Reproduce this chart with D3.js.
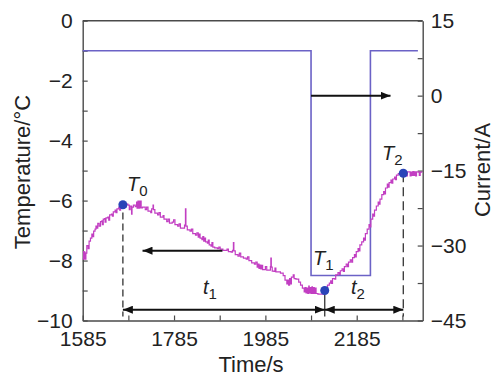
<!DOCTYPE html>
<html>
<head>
<meta charset="utf-8">
<script src="https://cdn.jsdelivr.net/npm/d3@7"></script>
<style>
  body { margin: 0; background: #fff; }
  svg text { font-family: "Liberation Sans", Arial, sans-serif; fill: #222; }
</style>
</head>
<body>
<div id="chart"></div>
<script>
// time axis ticks (s)
var timeTicks = [1585, 1685, 1785, 1885, 1985, 2085, 2185, 2285];
var tempTicks = [-10, -9, -8, -7, -6, -5, -4, -3, -2, -1, 0];
var currentTicks = [-45, -37.5, -30, -22.5, -15, -7.5, 0, 7.5, 15];

// current step signal (time, A)
var currentTime = [1585, 2085, 2085, 2215, 2215, 2319];
var currentValue = [9, 9, -36, -36, 9, 9];

// measured temperature (time, degC)
var tempSeries = [
  [1585,-7.95],[1587,-7.70],[1588,-7.95],[1589,-7.72],[1590,-7.95],[1592,-7.75],[1594,-7.50],[1597,-7.60],
  [1599,-7.35],[1602,-7.25],[1605,-7.12],[1607,-7.20],[1609,-7.02],[1612,-6.95],[1614,-6.85],[1616,-6.92],
  [1618,-6.76],[1621,-6.85],[1624,-6.70],[1627,-6.68],[1628,-6.80],[1630,-6.62],[1633,-6.60],[1634,-6.72],
  [1636,-6.58],[1640,-6.55],[1642,-6.65],[1644,-6.48],[1648,-6.45],[1650,-6.52],[1652,-6.38],[1656,-6.32],
  [1658,-6.40],[1660,-6.28],[1664,-6.22],[1666,-6.32],[1668,-6.18],[1672,-6.14],[1675,-6.10],
  [1678,-6.22],[1680,-6.12],[1684,-6.15],[1687,-6.30],[1689,-6.18],[1692,-6.45],[1693,-6.22],
  [1696,-6.15],[1700,-6.20],[1703,-6.05],[1704,-6.25],[1706,-6.02],[1707,-6.25],[1709,-6.02],
  [1710,-6.24],[1712,-6.02],[1713,-6.24],[1716,-6.22],[1722,-6.30],[1725,-6.22],
  [1728,-6.35],[1734,-6.40],[1736,-6.28],[1739,-6.15],[1740,-6.30],[1743,-6.42],
  [1749,-6.48],[1752,-6.40],[1755,-6.55],[1761,-6.50],[1763,-6.62],[1769,-6.70],
  [1772,-6.62],[1775,-6.75],[1781,-6.72],[1784,-6.64],[1787,-6.80],[1793,-6.85],
  [1796,-6.78],[1799,-6.92],[1805,-6.92],[1808,-6.82],[1810,-6.28],[1811,-6.85],[1814,-6.98],
  [1820,-7.02],[1823,-6.95],[1826,-7.10],[1832,-7.15],[1835,-7.08],[1838,-7.22],
  [1840,-7.12],[1842,-7.25],[1846,-7.30],[1848,-7.20],[1850,-7.35],[1852,-7.25],[1854,-7.38],
  [1858,-7.42],[1860,-7.32],[1862,-7.48],[1866,-7.52],[1868,-7.40],[1870,-7.55],
  [1874,-7.58],[1880,-7.60],[1883,-7.55],[1886,-7.62],[1892,-7.66],
  [1898,-7.66],[1901,-7.62],[1904,-7.70],[1910,-7.72],[1913,-7.66],[1915,-7.40],
  [1916,-7.68],[1919,-7.80],[1925,-7.85],[1928,-7.75],[1931,-7.88],[1937,-7.92],
  [1943,-7.95],[1946,-7.88],[1949,-8.00],[1955,-8.08],[1961,-8.12],
  [1964,-8.05],[1967,-8.22],[1969,-8.12],[1971,-8.26],[1973,-8.15],[1975,-8.28],[1977,-8.16],[1979,-8.30],
  [1983,-8.30],[1985,-8.20],[1988,-8.32],[1994,-8.32],[1996,-8.20],[1997,-7.92],
  [1998,-8.22],[2000,-8.35],[2004,-8.36],[2006,-8.25],[2008,-8.38],[2012,-8.38],
  [2018,-8.42],[2024,-8.50],[2028,-8.65],[2032,-8.78],
  [2034,-8.65],[2036,-8.82],[2038,-8.60],[2040,-8.78],[2042,-8.55],[2046,-8.48],[2048,-8.60],
  [2052,-8.62],[2058,-8.72],[2062,-8.82],[2066,-8.92],
  [2070,-9.05],[2072,-8.90],[2074,-9.08],[2076,-8.92],[2078,-9.10],[2080,-8.85],[2081,-9.08],
  [2083,-8.90],[2085,-9.10],[2087,-8.88],[2088,-9.10],[2090,-8.90],[2092,-9.10],[2094,-8.92],[2096,-9.10],
  [2100,-9.12],[2106,-9.12],[2112,-9.10],[2115,-9.00],[2118,-8.92],
  [2121,-8.82],[2125,-8.75],[2128,-8.68],[2130,-8.76],[2132,-8.60],[2137,-8.62],
  [2139,-8.48],[2144,-8.40],[2147,-8.46],[2149,-8.34],[2153,-8.28],[2156,-8.36],
  [2158,-8.20],[2162,-8.12],[2165,-8.20],[2167,-8.05],[2171,-7.98],[2174,-8.05],
  [2176,-7.90],[2180,-7.80],[2182,-7.88],[2184,-7.70],[2188,-7.60],[2190,-7.68],
  [2192,-7.48],[2196,-7.38],[2200,-7.25],[2202,-7.32],[2204,-7.10],
  [2208,-6.95],[2212,-6.80],[2214,-6.88],[2216,-6.62],[2220,-6.45],[2222,-6.52],
  [2224,-6.32],[2228,-6.18],[2232,-6.05],[2234,-6.12],[2236,-5.95],
  [2240,-5.80],[2244,-5.70],[2246,-5.78],[2248,-5.58],[2252,-5.45],[2254,-5.55],
  [2256,-5.40],[2260,-5.32],[2262,-5.42],[2264,-5.28],[2268,-5.22],[2270,-5.30],
  [2272,-5.15],[2276,-5.10],[2280,-5.08],[2283,-5.05],[2286,-5.16],[2288,-5.04],
  [2290,-5.18],[2292,-5.04],[2294,-5.18],[2296,-5.04],[2300,-5.04],[2302,-5.18],[2304,-5.05],
  [2306,-5.16],[2308,-5.03],[2310,-5.16],[2312,-5.04],[2314,-5.18],[2316,-5.04],[2320,-5.05],
  [2322,-5.16],[2324,-5.05],[2329,-5.05]
];

// key points T0, T1, T2
var keyNames = ["0", "1", "2"];
var keyTime = [1673, 2115, 2287];
var keyTemp = [-6.14, -9.0, -5.09];

var width = 494,
    height = 376;
var mLeft = 82.7, mRight = 422.7, mTop = 20.7, mBottom = 320.5;

var svg = d3.select("#chart")
    .append("svg")
    .attr("width", width)
    .attr("height", height);

var x = d3.scaleLinear().domain([1585, 2329.5]).range([mLeft, mRight]);
var yT = d3.scaleLinear().domain([-10, 0]).range([mBottom, mTop]);
var yC = d3.scaleLinear().domain([-45, 15]).range([mBottom, mTop]);

var defs = svg.append("defs");
defs.append("marker")
    .attr("id", "head")
    .attr("viewBox", "0 0 10 8")
    .attr("refX", 10)
    .attr("refY", 4)
    .attr("markerWidth", 10)
    .attr("markerHeight", 8)
    .attr("markerUnits", "userSpaceOnUse")
    .attr("orient", "auto-start-reverse")
    .append("path")
    .attr("d", "M0,0L10,4L0,8Z")
    .attr("fill", "#111");

// axes
var fmt = d3.format("");
svg.append("g")
    .attr("transform", "translate(0," + mBottom + ")")
    .call(d3.axisBottom(x).tickValues(timeTicks).tickSizeInner(-5).tickSizeOuter(0).tickPadding(11)
        .tickFormat(function(d) { return (d - 1585) % 200 === 0 ? d : ""; }))
    .call(styleAxis);

svg.append("g")
    .attr("transform", "translate(" + mLeft + ",0)")
    .call(d3.axisLeft(yT).tickValues(tempTicks).tickSizeInner(-5).tickSizeOuter(0).tickPadding(10)
        .tickFormat(function(d) { return d % 2 === 0 ? fmt(d) : ""; }))
    .call(styleAxis);

svg.append("g")
    .attr("transform", "translate(" + mRight + ",0)")
    .call(d3.axisRight(yC).tickValues(currentTicks).tickSizeInner(-5).tickSizeOuter(0).tickPadding(8)
        .tickFormat(function(d) { return d % 15 === 0 ? fmt(d) : ""; }))
    .call(styleAxis);

function styleAxis(g) {
  g.select(".domain").attr("stroke", "#4a4a4a").attr("stroke-width", 1.4);
  g.selectAll(".tick line").attr("stroke", "#4a4a4a").attr("stroke-width", 1.2);
  g.selectAll(".tick text").style("font-size", "21px").attr("fill", "#1a1a1a");
}

// top frame
svg.append("line")
    .attr("x1", mLeft).attr("x2", mRight)
    .attr("y1", mTop).attr("y2", mTop)
    .attr("stroke", "#4a4a4a").attr("stroke-width", 1.4);

// axis titles
svg.append("text")
    .attr("transform", "translate(30,172) rotate(-90)")
    .attr("text-anchor", "middle")
    .style("font-size", "22px")
    .text("Temperature/°C");

svg.append("text")
    .attr("transform", "translate(490,170) rotate(-90)")
    .attr("text-anchor", "middle")
    .style("font-size", "22px")
    .text("Current/A");

svg.append("text")
    .attr("x", 251)
    .attr("y", 372)
    .attr("text-anchor", "middle")
    .style("font-size", "22px")
    .text("Time/s");

// current line
var currentLine = d3.line()
    .x(function(d, i) { return x(currentTime[i]); })
    .y(function(d) { return yC(d); });

svg.append("path")
    .datum(currentValue)
    .attr("fill", "none")
    .attr("stroke", "#6b62c6")
    .attr("stroke-width", 1.6)
    .attr("d", currentLine);

// temperature line
var tempLine = d3.line()
    .curve(d3.curveStepAfter)
    .x(function(d) { return x(d[0]); })
    .y(function(d) { return yT(d[1]); });

svg.append("path")
    .datum(tempSeries)
    .attr("fill", "none")
    .attr("stroke", "#c23ec2")
    .attr("stroke-width", 1.2)
    .attr("d", tempLine);

// guide lines
var arrowY = yT(-9.64);
svg.append("line")
    .attr("x1", x(keyTime[0])).attr("x2", x(keyTime[0]))
    .attr("y1", yT(-6.4)).attr("y2", mBottom - 4)
    .attr("stroke", "#333").attr("stroke-width", 1.3)
    .attr("stroke-dasharray", "7,4");
svg.append("line")
    .attr("x1", x(keyTime[1])).attr("x2", x(keyTime[1]))
    .attr("y1", yT(keyTemp[1])).attr("y2", mBottom - 4)
    .attr("stroke", "#333").attr("stroke-width", 1.3);
svg.append("line")
    .attr("x1", x(keyTime[2])).attr("x2", x(keyTime[2]))
    .attr("y1", yT(keyTemp[2])).attr("y2", mBottom - 4)
    .attr("stroke", "#333").attr("stroke-width", 1.3)
    .attr("stroke-dasharray", "9,5");

// arrows
function arrow(x1, y1, x2, y2, both) {
  var l = svg.append("line")
      .attr("x1", x1).attr("y1", y1)
      .attr("x2", x2).attr("y2", y2)
      .attr("stroke", "#111").attr("stroke-width", 2)
      .attr("marker-end", "url(#head)");
  if (both) l.attr("marker-start", "url(#head)");
}
arrow(x(2085), yC(0), x(2259), yC(0), false);
arrow(x(1891), yT(-7.67), x(1716), yT(-7.67), false);
arrow(x(keyTime[0]), arrowY, x(keyTime[1]), arrowY, true);
arrow(x(keyTime[1]), arrowY, x(keyTime[2]), arrowY, true);

// key markers
svg.selectAll("circle.key")
    .data(keyTime)
    .enter().append("circle")
    .attr("class", "key")
    .attr("cx", function(d) { return x(d); })
    .attr("cy", function(d, i) { return yT(keyTemp[i]); })
    .attr("r", 4.5)
    .attr("fill", "#2a44b8");

// labels
function label(px, py, main, sub) {
  var t = svg.append("text")
      .attr("x", px).attr("y", py)
      .style("font-size", "20px")
      .style("font-style", "italic")
      .text(main);
  t.append("tspan")
      .attr("dy", 5)
      .style("font-size", "15px")
      .style("font-style", "normal")
      .text(sub);
}
label(127, 191, "T", keyNames[0]);
label(313, 265, "T", keyNames[1]);
label(382, 160, "T", keyNames[2]);
label(203, 294, "t", "1");
label(351, 294, "t", "2");
</script>
</body>
</html>
